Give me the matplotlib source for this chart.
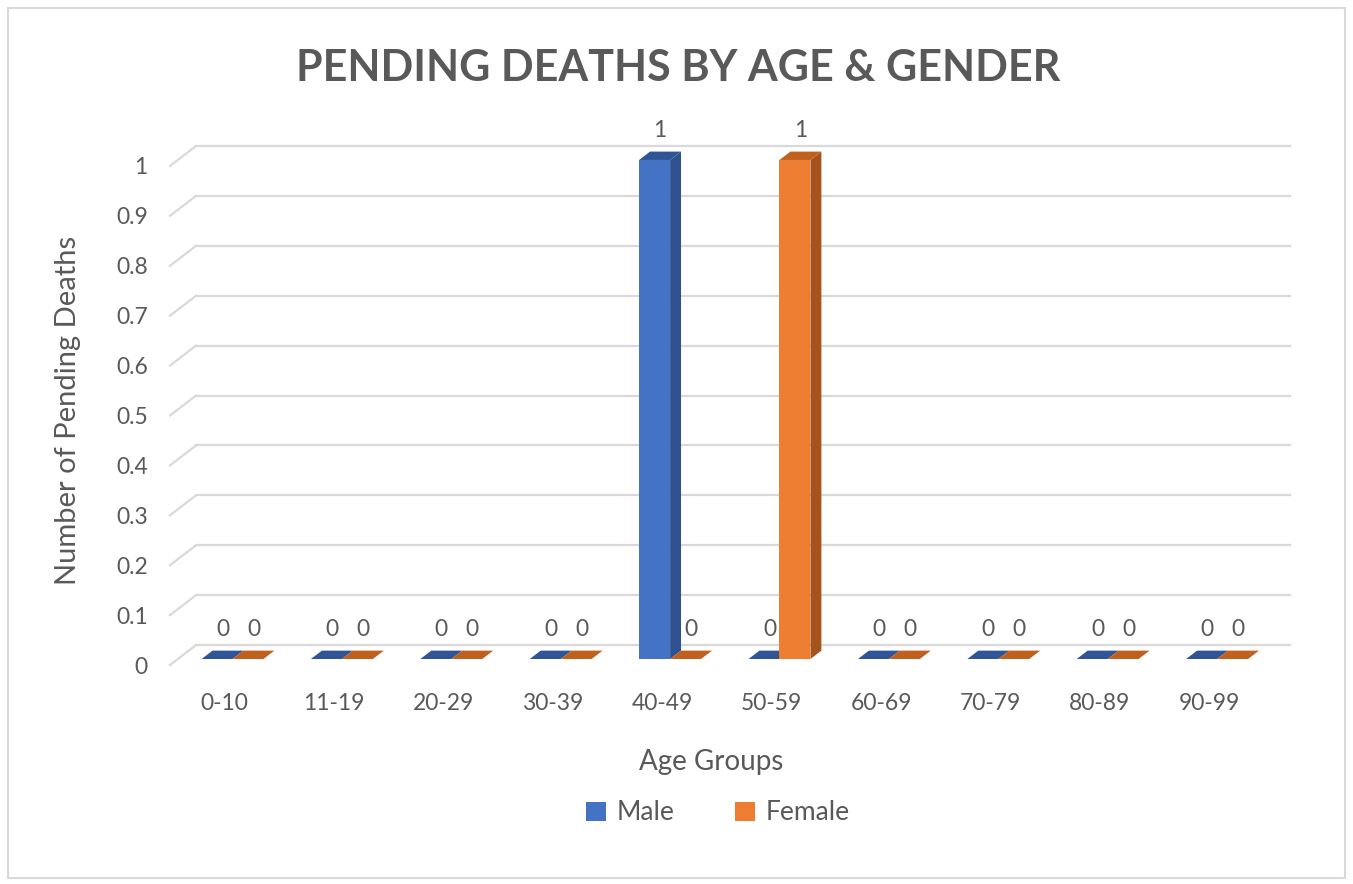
import matplotlib.pyplot as plt
from matplotlib.patches import Polygon, Rectangle

# chart data
age_groups = ['0-10', '11-19', '20-29', '30-39', '40-49',
              '50-59', '60-69', '70-79', '80-89', '90-99']
male = [0, 0, 0, 0, 1, 0, 0, 0, 0, 0]
female = [0, 0, 0, 0, 0, 1, 0, 0, 0, 0]
y_ticks = [0, 0.1, 0.2, 0.3, 0.4, 0.5, 0.6, 0.7, 0.8, 0.9, 1]

plt.rcParams['font.family'] = ['Lato', 'DejaVu Sans']

# oblique depth of the floor, in data units (x: category, y: value)
DX, DY = 0.238, 0.040
BAR_W = 0.283
BAR_Z0, BAR_Z1 = 0.30, 0.72   # bar front / back as a fraction of depth

series = [
    (male, -1, '#4472C4', '#2F528F', '#2F5597', 'Male'),
    (female, 0, '#ED7D31', '#A5521C', '#C0601F', 'Female'),
]

W, H = 1353, 884
fig = plt.figure(figsize=(W / 100, H / 100), dpi=100)
fig.patch.set_facecolor('white')

# chart area border
fig.add_artist(Rectangle((8 / W, 6 / H), 1337 / W, 870 / H, transform=fig.transFigure,
                         fill=False, edgecolor='#D9D9D9', linewidth=1.5))

n = len(age_groups)
ax = fig.add_axes([170 / W, (H - 665) / H, 1120 / W, 519 / H])
ax.set_xlim(0, n + DX)
ax.set_ylim(0, 1 + DY)
for s in ax.spines.values():
    s.set_visible(False)

grid_c = '#D9D9D9'
for v in y_ticks:
    # side wall stub then back wall line
    ax.plot([0, DX], [v, v + DY], color=grid_c, lw=1.6, clip_on=False, zorder=1)
    ax.plot([DX, n + DX], [v + DY, v + DY], color=grid_c, lw=1.6, clip_on=False, zorder=1)

ax.set_yticks(y_ticks)
ax.set_yticklabels(['%g' % v for v in y_ticks])
ax.set_xticks([i + 0.5 for i in range(n)])
ax.set_xticklabels(age_groups)
ax.tick_params(length=0, labelsize=16.5, labelcolor='#595959')
ax.tick_params(axis='y', pad=16)
ax.tick_params(axis='x', pad=20)

fx, fy = DX * BAR_Z0, DY * BAR_Z0
bx, by = DX * BAR_Z1, DY * BAR_Z1
mz = (BAR_Z0 + BAR_Z1) / 2

for i in range(n):
    for vals, side, c_front, c_side, c_top, name in series:
        v = vals[i]
        x0 = i + 0.5 + side * BAR_W + fx
        x1 = x0 + BAR_W
        y1 = v + fy
        ax.add_patch(Rectangle((x0, fy), BAR_W, v, facecolor=c_front,
                               edgecolor='none', clip_on=False, zorder=3))
        ax.add_patch(Polygon([(x1, fy), (x1 + bx - fx, by), (x1 + bx - fx, v + by), (x1, y1)],
                             closed=True, facecolor=c_side, edgecolor='none',
                             clip_on=False, zorder=3))
        ax.add_patch(Polygon([(x0, y1), (x1, y1), (x1 + bx - fx, v + by), (x0 + bx - fx, v + by)],
                             closed=True, facecolor=c_top, edgecolor='none',
                             clip_on=False, zorder=3))
        ax.annotate('%g' % v, (x0 + BAR_W / 2 + DX * mz - fx, v + DY * mz),
                    xytext=(0, 18), textcoords='offset points', ha='center', va='center',
                    fontsize=16.5, color='#595959', zorder=4, annotation_clip=False)

fig.text(678 / W, 1 - 68 / H, 'PENDING DEATHS BY AGE & GENDER', ha='center', va='center',
         fontsize=31, fontweight='bold', color='#595959')
fig.text(68 / W, 1 - 410 / H, 'Number of Pending Deaths', rotation=90, ha='center',
         va='center', fontsize=21, color='#595959')
fig.text(711 / W, 1 - 762 / H, 'Age Groups', ha='center', va='center',
         fontsize=20, color='#595959')

# legend
handles = [Rectangle((0, 0), 1, 1, facecolor=s[2]) for s in series]
fig.legend(handles, [s[5] for s in series], loc='center', bbox_to_anchor=(718 / W, 1 - 813 / H),
           ncol=2, frameon=False, fontsize=19, labelcolor='#595959',
           handlelength=0.75, handleheight=0.75, handletextpad=0.4, columnspacing=2.3)

fig.savefig('out.png', dpi=100)
